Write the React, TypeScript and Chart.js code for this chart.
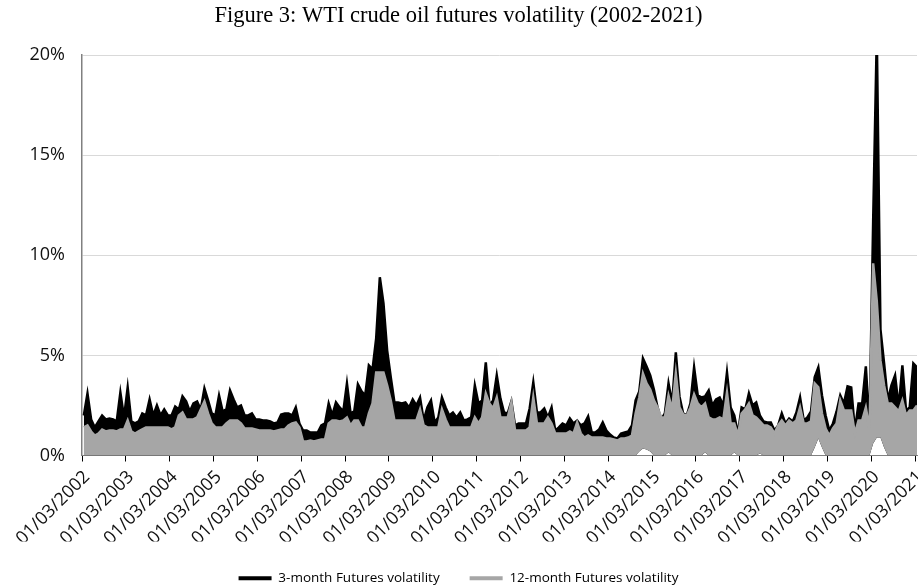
import React, { useEffect, useRef } from 'react';
import { Chart, registerables } from 'chart.js';

Chart.register(...registerables);

const TITLE = 'Figure 3: WTI crude oil futures volatility (2002-2021)';
const SERIES_NAMES = ['3-month Futures volatility', '12-month Futures volatility'];
const START_YEAR = 2002;
const YEAR_TICKS = [2002, 2003, 2004, 2005, 2006, 2007, 2008, 2009, 2010, 2011, 2012, 2013, 2014, 2015, 2016, 2017, 2018, 2019, 2020, 2021];
const Y_TICKS = [0, 5, 10, 15, 20];

// Monthly peak of the 3-month futures volatility (%), Jan 2002 .. Jan 2021
const VOL_3M = [
  2.0, 3.1, 1.8, 1.4, 1.7, 2.0, 1.8, 1.85, 1.8, 1.7, 3.15, 1.9,
  3.4, 1.7, 1.6, 1.7, 2.1, 2.0, 2.8, 2.0, 2.5, 2.0, 2.3, 2.0,
  2.0, 2.45, 2.3, 2.95, 2.7, 2.2, 2.6, 2.7, 2.3, 3.35, 2.75, 2.1,
  2.0, 3.0, 2.2, 2.3, 3.25, 2.8, 2.4, 2.5, 2.0, 2.0, 2.1, 1.8,
  1.8, 1.75, 1.75, 1.7, 1.6, 1.65, 2.05, 2.1, 2.1, 2.0, 2.4, 1.6,
  1.25, 1.25, 1.15, 1.15, 1.15, 1.5, 1.6, 2.6, 2.0, 2.65, 2.4, 2.2,
  3.6, 2.1, 2.2, 3.55, 3.2, 3.0, 4.5, 4.3, 5.85, 8.9, 7.6, 5.25,
  3.9, 2.65, 2.65, 2.6, 2.65, 2.4, 2.8, 2.5, 2.9, 1.75, 2.4, 2.75,
  1.65, 1.9, 2.9, 2.4, 2.0, 2.15, 1.9, 2.15, 1.75, 1.8, 1.9, 3.5,
  2.6, 2.75, 4.65, 2.5, 2.75, 4.0, 2.85, 2.15, 2.1, 2.7, 1.5, 1.6,
  1.6, 1.6, 2.35, 3.65, 2.15, 2.15, 2.35, 1.9, 2.4, 1.25, 1.4, 1.6,
  1.5, 1.85, 1.6, 1.75, 1.5, 1.6, 1.95, 1.15, 1.15, 1.3, 1.65, 1.25,
  1.05, 0.9, 0.85, 1.1, 1.15, 1.2, 1.5, 2.75, 3.2, 4.85, 4.45, 4.0,
  3.3, 2.4, 1.8, 2.1, 3.6, 2.6, 5.15, 2.95, 2.1, 2.0, 2.6, 4.4,
  3.0, 2.9, 2.95, 3.25, 2.5, 2.8, 2.9, 2.5, 4.15, 2.4, 2.0, 1.1,
  2.4, 2.3, 3.1, 2.5, 2.65, 2.0, 1.7, 1.65, 1.65, 1.25, 1.5, 2.1,
  1.6, 1.85, 1.7, 2.15, 2.9, 1.75, 1.9, 2.2, 3.9, 4.4, 3.0, 2.0,
  1.25, 1.6, 2.2, 3.0, 2.6, 3.45, 3.4, 1.25, 2.6, 2.6, 4.45, 1.4,
  11.7, 21.0, 6.3, 4.6, 2.75, 3.5, 4.0, 2.4, 4.5, 2.25, 2.4, 4.6,
  4.4,
];

// Monthly peak of the 12-month futures volatility (%)
const VOL_12M = [
  1.4, 1.5, 1.2, 1.0, 1.1, 1.3, 1.2, 1.25, 1.25, 1.2, 1.3, 1.3,
  1.75, 1.2, 1.1, 1.2, 1.3, 1.4, 1.4, 1.4, 1.4, 1.4, 1.4, 1.4,
  1.3, 1.4, 2.0, 2.15, 1.8, 1.8, 1.8, 1.9, 2.3, 2.7, 2.1, 1.6,
  1.4, 1.4, 1.4, 1.6, 1.75, 1.75, 1.75, 1.6, 1.35, 1.35, 1.35, 1.3,
  1.25, 1.25, 1.25, 1.25, 1.2, 1.25, 1.3, 1.3, 1.5, 1.6, 1.65, 1.4,
  0.7, 0.7, 0.75, 0.7, 0.75, 0.8, 0.8, 1.6, 1.75, 1.75, 1.7, 1.75,
  1.9, 1.5, 1.75, 1.75, 1.4, 1.4, 2.1, 2.6, 4.15, 4.15, 4.15, 3.5,
  2.75, 1.75, 1.75, 1.75, 1.75, 1.75, 1.75, 1.75, 2.3, 1.5, 1.4, 1.4,
  1.4, 1.4, 2.3, 1.8, 1.4, 1.4, 1.4, 1.4, 1.4, 1.4, 1.4, 1.9,
  1.6, 1.9, 3.1, 2.6, 2.35, 2.9, 1.9, 1.9, 1.9, 2.65, 1.25, 1.25,
  1.25, 1.25, 1.4, 2.9, 1.6, 1.6, 1.6, 1.9, 1.6, 1.1, 1.1, 1.1,
  1.1, 1.2, 1.1, 1.65, 1.1, 0.9, 1.0, 0.9, 0.9, 0.9, 0.9, 0.85,
  0.85, 0.8, 0.75, 0.85, 0.85, 0.9, 1.0, 2.1, 2.9, 4.1, 3.6, 3.3,
  2.75, 2.4, 1.9, 1.9, 3.0, 2.3, 4.1, 2.4, 2.05, 2.0, 2.4, 3.05,
  2.6, 2.4, 2.6, 1.9, 1.8, 1.8, 1.9, 1.8, 3.15, 1.6, 1.6, 1.0,
  2.1, 2.3, 2.6, 2.0, 1.9, 1.7, 1.5, 1.5, 1.4, 1.1, 1.5, 1.75,
  1.5, 1.75, 1.6, 1.75, 2.4, 1.6, 1.6, 1.7, 3.6, 3.4, 2.1, 1.35,
  1.0, 1.35, 1.6, 2.75, 2.25, 2.25, 2.25, 1.1, 1.75, 1.75, 2.4, 1.3,
  9.6, 7.7, 4.75, 3.5, 2.6, 2.6, 2.4, 2.2, 2.75, 2.0, 2.25, 2.25,
  2.5,
];

// Monthly trough shared by both series (%), where the lines never reach 0
const VOL_FLOOR = [
  0, 0, 0, 0, 0, 0, 0, 0, 0, 0, 0, 0,
  0, 0, 0, 0, 0, 0, 0, 0, 0, 0, 0, 0,
  0, 0, 0, 0, 0, 0, 0, 0, 0, 0, 0, 0,
  0, 0, 0, 0, 0, 0, 0, 0, 0, 0, 0, 0,
  0, 0, 0, 0, 0, 0, 0, 0, 0, 0, 0, 0,
  0, 0, 0, 0, 0, 0, 0, 0, 0, 0, 0, 0,
  0, 0, 0, 0, 0, 0, 0, 0, 0, 0, 0, 0,
  0, 0, 0, 0, 0, 0, 0, 0, 0, 0, 0, 0,
  0, 0, 0, 0, 0, 0, 0, 0, 0, 0, 0, 0,
  0, 0, 0, 0, 0, 0, 0, 0, 0, 0, 0, 0,
  0, 0, 0, 0, 0, 0, 0, 0, 0, 0, 0, 0,
  0, 0, 0, 0, 0, 0, 0, 0, 0, 0, 0, 0,
  0, 0, 0, 0, 0, 0, 0, 0, 0.2, 0.35, 0.3, 0.2,
  0, 0, 0, 0, 0.15, 0, 0, 0, 0, 0, 0, 0,
  0, 0, 0.15, 0, 0, 0, 0, 0, 0, 0, 0.15, 0,
  0, 0, 0, 0, 0, 0.1, 0, 0, 0, 0, 0, 0,
  0, 0, 0, 0, 0, 0, 0, 0, 0.4, 0.85, 0.4, 0,
  0, 0, 0, 0, 0, 0, 0, 0, 0, 0, 0, 0,
  0.6, 0.9, 0.9, 0.4, 0, 0, 0, 0, 0, 0, 0, 0,
  0,
];

const BLACK = '#000000';
const GRAY = '#a6a6a6';
const AXIS_FONT = 'Open Sans';
const W = 918;
const H = 586;
const CANVAS_H = 595;

export default function App() {
  const ref = useRef<HTMLCanvasElement>(null);

  useEffect(() => {
    const canvas = ref.current;
    if (!canvas) return;
    const toPts = (arr: number[]) => arr.map((v, i) => ({ x: i + 0.5, y: v }));
    const chart = new Chart(canvas, {
      type: 'line',
      data: {
        datasets: [
          {
            label: SERIES_NAMES[0],
            data: toPts(VOL_3M),
            borderColor: BLACK,
            backgroundColor: BLACK,
            borderWidth: 2.5,
            pointRadius: 0,
            tension: 0,
            fill: { target: 2 },
            order: 1,
          },
          {
            label: SERIES_NAMES[1],
            data: toPts(VOL_12M),
            borderColor: GRAY,
            backgroundColor: GRAY,
            borderWidth: 2.5,
            pointRadius: 0,
            tension: 0,
            fill: { target: 2 },
            order: 0,
          },
          {
            label: 'floor',
            data: toPts(VOL_FLOOR),
            borderColor: 'rgba(0,0,0,0)',
            backgroundColor: 'rgba(0,0,0,0)',
            borderWidth: 0,
            pointRadius: 0,
            fill: false,
            order: 2,
          },
        ],
      },
      options: {
        animation: false,
        responsive: false,
        devicePixelRatio: 1,
        layout: { padding: { left: 0, right: 1, top: 0, bottom: 0 } },
        scales: {
          x: {
            type: 'linear',
            min: 0,
            max: 228.5,
            afterBuildTicks: (s: any) => {
              s.ticks = YEAR_TICKS.map((y) => ({ value: (y - START_YEAR) * 12 }));
            },
            afterFit: (s: any) => {
              s.height = 86;
              s.paddingRight = 0;
            },
            ticks: {
              autoSkip: false,
              minRotation: 45,
              maxRotation: 45,
              padding: 5,
              labelOffset: 5,
              color: '#111',
              font: { family: AXIS_FONT, size: 18 },
              callback: (v: any) => `01/03/${START_YEAR + Math.round(Number(v) / 12)}`,
            },
            grid: { drawOnChartArea: false, drawTicks: true, tickLength: 6, color: '#000' },
            border: { color: '#808080', width: 1 },
          },
          y: {
            min: 0,
            max: 20,
            afterBuildTicks: (s: any) => {
              s.ticks = Y_TICKS.map((v) => ({ value: v }));
            },
            afterFit: (s: any) => {
              s.width = 82;
            },
            ticks: {
              padding: 17,
              color: '#111',
              font: { family: AXIS_FONT, size: 18 },
              callback: (v: any) => `${v}%`,
            },
            grid: { color: '#d9d9d9', drawTicks: false, lineWidth: 1 },
            border: { color: '#808080', width: 1.5 },
          },
        },
        plugins: {
          tooltip: { enabled: false },
          title: {
            display: true,
            text: TITLE,
            color: '#000',
            font: { family: 'Liberation Serif', size: 22.5, weight: 'normal' },
            padding: { top: 3, bottom: 25 },
          },
          legend: {
            position: 'bottom',
            labels: {
              boxWidth: 33,
              boxHeight: 4,
              padding: 30,
              color: '#000',
              font: { family: AXIS_FONT, size: 13.5 },
              generateLabels: () => [
                { text: SERIES_NAMES[0], fillStyle: BLACK, strokeStyle: BLACK, lineWidth: 0, hidden: false, datasetIndex: 0 },
                { text: SERIES_NAMES[1], fillStyle: GRAY, strokeStyle: GRAY, lineWidth: 0, hidden: false, datasetIndex: 1 },
              ],
            },
          },
        },
      } as any,
    });
    return () => chart.destroy();
  }, []);

  return (
    <div style={{ position: 'absolute', left: 0, top: 0, width: W, height: H, overflow: 'hidden', background: '#fff' }}>
      <canvas ref={ref} width={W} height={CANVAS_H} style={{ display: 'block', width: W, height: CANVAS_H }} />
    </div>
  );
}
